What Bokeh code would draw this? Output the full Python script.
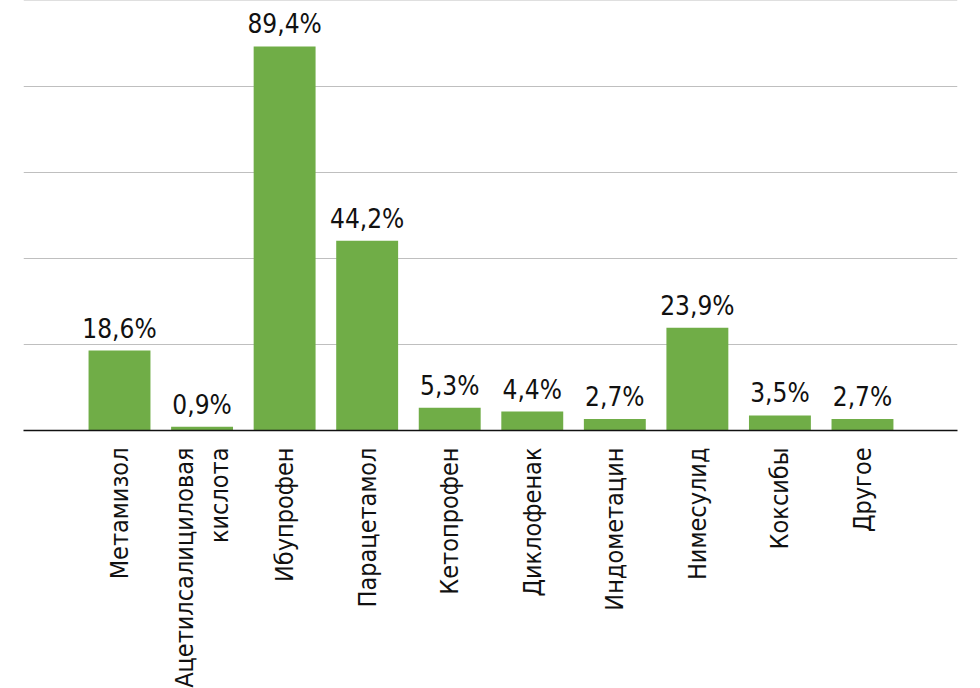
import math
from bokeh.plotting import figure
from bokeh.models import FixedTicker, ColumnDataSource, Range1d
from bokeh.core.properties import value
from bokeh.embed import file_html
from bokeh.resources import INLINE

categories = ["Метамизол", "Ацетилсалициловая\nкислота", "Ибупрофен", "Парацетамол",
              "Кетопрофен", "Диклофенак", "Индометацин", "Нимесулид", "Коксибы", "Другое"]
values = [18.6, 0.9, 89.4, 44.2, 5.3, 4.4, 2.7, 23.9, 3.5, 2.7]
grid_ticks = [0, 20, 40, 60, 80, 100]

FONT = "'DejaVu Sans Condensed', 'Liberation Sans', sans-serif"

xs = list(range(len(categories)))
labels = [("%.1f" % v).replace(".", ",") + "%" for v in values]
src = ColumnDataSource(dict(x=xs, top=values, label=labels))

p = figure(frame_width=934, frame_height=430, output_backend="svg", toolbar_location=None,
           x_range=Range1d(-1.163, 10.151), y_range=Range1d(0, 100.1),
           min_border_left=23, min_border_right=7, min_border_top=0, min_border_bottom=0)
p.outline_line_color = None
p.background_fill_color = "white"
p.border_fill_color = "white"

p.vbar(x="x", top="top", width=0.75, bottom=0, source=src,
       fill_color="#70AD47", line_color=None)

p.text(x="x", y="top", text="label", source=src, text_align="center",
       text_baseline="bottom", y_offset=-7, text_font=value(FONT),
       text_font_size="26px", text_color="#111111")

p.yaxis.visible = False
p.ygrid.ticker = FixedTicker(ticks=grid_ticks)
p.ygrid.grid_line_color = "#BFBFBF"
p.ygrid.grid_line_width = 1
p.xgrid.visible = False

ax = p.xaxis[0]
ax.ticker = FixedTicker(ticks=xs)
ax.major_label_overrides = {i: c for i, c in enumerate(categories)}
ax.major_label_orientation = math.pi / 2
ax.major_label_text_font = FONT
ax.major_label_text_font_size = "25px"
ax.major_label_text_color = "#111111"
ax.major_label_standoff = 11
ax.major_tick_line_color = None
ax.minor_tick_line_color = None
ax.axis_line_color = "#111111"
ax.axis_line_width = 1.5

open("out.html", "w").write(file_html(p, INLINE))
